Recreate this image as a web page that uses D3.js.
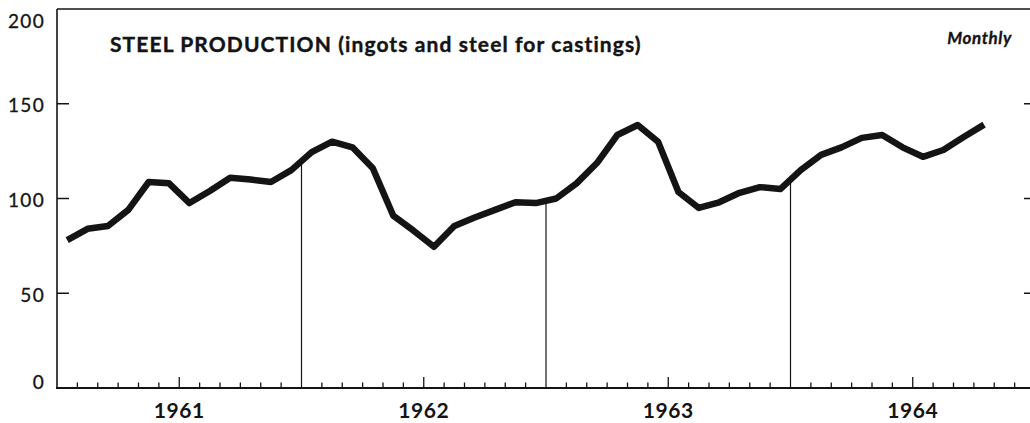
<!DOCTYPE html>
<html>
<head>
<meta charset="utf-8">
<script src="https://cdn.jsdelivr.net/npm/d3@7"></script>
<style>
  html, body { margin: 0; padding: 0; background: #fff; }
  svg { display: block; }
</style>
</head>
<body>
<svg id="chart" width="1030" height="423"></svg>
<script>
// ---- data ----
const years = ["1961", "1962", "1963", "1964"];
const monthsPerYear = 12;
// Monthly steel production index, Jan 1961 – Oct 1964
const production = [
  78, 84, 85.5, 94, 108.7, 108, 97.6, 104, 111, 110, 108.7, 115,
  124.5, 130, 127, 116, 91, 83, 74.5, 85.5, 90, 94, 98, 97.6,
  100, 108, 118.7, 133.5, 138.8, 130, 103.4, 95, 98, 103, 106, 105,
  115, 123, 127, 132, 133.5, 127, 122, 125.6, 132.5, 139
];
const yTicks = [0, 50, 100, 150, 200];
const titleText = "STEEL PRODUCTION (ingots and steel for castings)";
const periodText = "Monthly";

// ---- layout ----
const svg = d3.select("#chart");
const ink = "#141414";
const totalMonths = years.length * monthsPerYear;
const x = d3.scaleLinear().domain([0, totalMonths]).range([57, 1035]);
const y = d3.scaleLinear().domain([0, 200]).range([388, 9]);

// frame: left axis, top border, bottom axis
svg.append("line").attr("x1", x(0)).attr("x2", x(0)).attr("y1", y(200)).attr("y2", y(0))
  .attr("stroke", ink).attr("stroke-width", 1.6);
svg.append("line").attr("x1", x(0)).attr("x2", x(totalMonths)).attr("y1", y(200)).attr("y2", y(200))
  .attr("stroke", ink).attr("stroke-width", 1.6);
svg.append("line").attr("x1", x(0) - 1).attr("x2", x(totalMonths)).attr("y1", y(0)).attr("y2", y(0))
  .attr("stroke", ink).attr("stroke-width", 2);

// y ticks (left, inward) and right-side ticks
yTicks.filter(d => d > 0 && d < 200).forEach(d => {
  svg.append("line").attr("x1", x(0)).attr("x2", x(0) + 12).attr("y1", y(d)).attr("y2", y(d))
    .attr("stroke", ink).attr("stroke-width", 1.5);
  svg.append("line").attr("x1", x(totalMonths) - 11).attr("x2", x(totalMonths)).attr("y1", y(d)).attr("y2", y(d))
    .attr("stroke", ink).attr("stroke-width", 1.5);
});

// y labels
svg.append("g").selectAll("text").data(yTicks).join("text")
  .attr("x", 45)
  .attr("y", d => d === 200 ? y(d) + 11 : (d === 0 ? y(d) - 7 : y(d) + 1))
  .attr("text-anchor", "end")
  .attr("dominant-baseline", "central")
  .attr("font-family", "Lato, 'DejaVu Sans', sans-serif")
  .attr("font-size", 19)
  .attr("letter-spacing", 1.3)
  .attr("stroke", ink).attr("stroke-width", 0.3)
  .attr("fill", ink)
  .text(d => d);

// month ticks
const tickIdx = d3.range(1, totalMonths).filter(k => k % monthsPerYear !== 0);
svg.append("g").selectAll("line").data(tickIdx).join("line")
  .attr("x1", d => x(d)).attr("x2", d => x(d))
  .attr("y1", y(0))
  .attr("y2", d => y(0) - (d % monthsPerYear === 6 ? 11 : 5.5))
  .attr("stroke", ink).attr("stroke-width", 1.3);

// year labels
svg.append("g").selectAll("text").data(years).join("text")
  .attr("x", (d, i) => x(i * monthsPerYear + 6))
  .attr("y", 418)
  .attr("text-anchor", "middle")
  .attr("font-family", "Lato, 'DejaVu Sans', sans-serif")
  .attr("font-weight", 700)
  .attr("font-size", 21)
  .attr("letter-spacing", 0.6)
  .attr("fill", ink)
  .text(d => d);

// drop lines at year boundaries
const valueAt = m => {
  const i = m - 0.5, i0 = Math.floor(i), t = i - i0;
  return production[i0] * (1 - t) + production[i0 + 1] * t;
};
d3.range(1, years.length).forEach(k => {
  const m = k * monthsPerYear;
  svg.append("line").attr("x1", x(m)).attr("x2", x(m))
    .attr("y1", y(0)).attr("y2", y(valueAt(m)))
    .attr("stroke", ink).attr("stroke-width", 1.2);
});

// the series line
const line = d3.line().x((d, i) => x(i + 0.5)).y(d => y(d));
svg.append("path").datum(production)
  .attr("d", line)
  .attr("fill", "none")
  .attr("stroke", ink)
  .attr("stroke-width", 6.5)
  .attr("stroke-linejoin", "round")
  .attr("stroke-linecap", "butt");

// title
svg.append("text")
  .attr("x", 110).attr("y", 52)
  .attr("font-family", "Lato, 'DejaVu Sans', sans-serif")
  .attr("font-weight", 700)
  .attr("font-size", 21)
  .attr("letter-spacing", 1.1)
  .attr("stroke", ink).attr("stroke-width", 0.4)
  .attr("fill", ink)
  .text(titleText);

svg.append("text")
  .attr("x", 1012).attr("y", 44)
  .attr("text-anchor", "end")
  .attr("font-family", "Lato, 'DejaVu Sans', sans-serif")
  .attr("font-weight", 700)
  .attr("font-style", "italic")
  .attr("font-size", 17)
  .attr("letter-spacing", 0.6)
  .attr("stroke", ink).attr("stroke-width", 0.3)
  .attr("fill", ink)
  .text(periodText);
</script>
</body>
</html>
